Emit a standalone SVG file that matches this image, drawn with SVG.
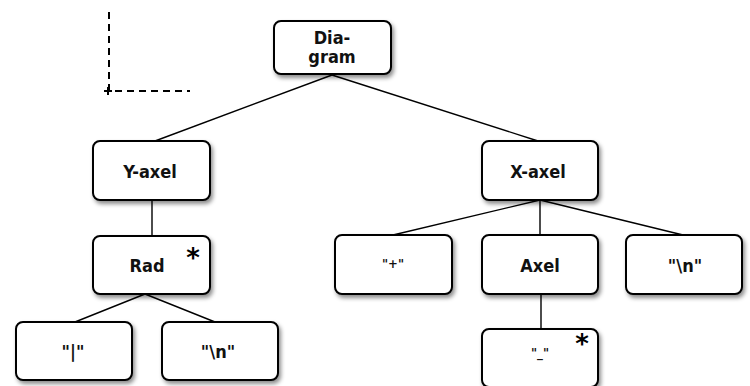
<svg xmlns="http://www.w3.org/2000/svg" width="750" height="386" viewBox="0 0 750 386">
<defs>
<filter id="sh" x="-20%" y="-20%" width="150%" height="160%">
<feDropShadow dx="2" dy="3" stdDeviation="2" flood-color="#000" flood-opacity="0.45"/>
</filter>
</defs>
<style>
.box{fill:#fff;stroke:#000;stroke-width:2;filter:url(#sh)}
.t{font-family:"DejaVu Sans Condensed","DejaVu Sans",sans-serif;font-weight:bold;font-size:18px;text-anchor:middle;fill:#111}
.s{font-size:13px}
.star{font-family:"DejaVu Sans",sans-serif;font-weight:bold;font-size:26px;text-anchor:middle;fill:#000}
.c{stroke:#000;stroke-width:1.4;fill:none}
.d{stroke:#000;stroke-width:2;fill:none;stroke-dasharray:7 5}
</style>
<g id="axes">
<line class="d" x1="109" y1="12" x2="109" y2="91"/>
<line class="d" x1="115" y1="91" x2="190" y2="91"/>
<line x1="104" y1="91" x2="112" y2="91" stroke="#000" stroke-width="2"/>
<line x1="108" y1="87" x2="108" y2="95" stroke="#000" stroke-width="2"/>
</g>
<g id="connectors">
<line class="c" x1="332" y1="75" x2="155" y2="141"/>
<line class="c" x1="332" y1="75" x2="538" y2="141"/>
<line class="c" x1="152" y1="200" x2="152" y2="236"/>
<line class="c" x1="145" y1="294" x2="75" y2="322"/>
<line class="c" x1="145" y1="294" x2="215" y2="322"/>
<line class="c" x1="540" y1="200" x2="393" y2="235"/>
<line class="c" x1="540" y1="200" x2="540" y2="235"/>
<line class="c" x1="540" y1="200" x2="683" y2="235"/>
<line class="c" x1="541" y1="294" x2="541" y2="329"/>
</g>
<g id="diagram">
<rect class="box" x="274" y="21" width="117" height="53" rx="7"/>
<text class="t" x="332" y="44">Dia-</text>
<text class="t" x="332" y="63">gram</text>
</g>
<g id="yaxel">
<rect class="box" x="93" y="141" width="117" height="59" rx="7"/>
<text class="t" x="150" y="178">Y-axel</text>
</g>
<g id="rad">
<rect class="box" x="93" y="236" width="117" height="58" rx="7"/>
<text class="t" x="147" y="272">Rad</text>
<text class="star" x="193" y="267">*</text>
</g>
<g id="bar">
<rect class="box" x="16" y="322" width="116" height="58" rx="7"/>
<text class="t" x="73" y="358">"|"</text>
</g>
<g id="newline1">
<rect class="box" x="162" y="322" width="116" height="58" rx="7"/>
<text class="t" x="218" y="358">"\n"</text>
</g>
<g id="xaxel">
<rect class="box" x="482" y="141" width="116" height="59" rx="7"/>
<text class="t" x="538" y="178">X-axel</text>
</g>
<g id="plus">
<rect class="box" x="335" y="235" width="117" height="59" rx="7"/>
<text class="t s" x="393" y="268">"+"</text>
</g>
<g id="axel">
<rect class="box" x="482" y="235" width="116" height="59" rx="7"/>
<text class="t" x="540" y="272">Axel</text>
</g>
<g id="newline2">
<rect class="box" x="626" y="235" width="116" height="59" rx="7"/>
<text class="t" x="685" y="272">"\n"</text>
</g>
<g id="dash">
<rect class="box" x="482" y="329" width="116" height="58" rx="7"/>
<text class="t s" x="540" y="357">"_"</text>
<text class="star" x="582" y="353">*</text>
</g>
</svg>
